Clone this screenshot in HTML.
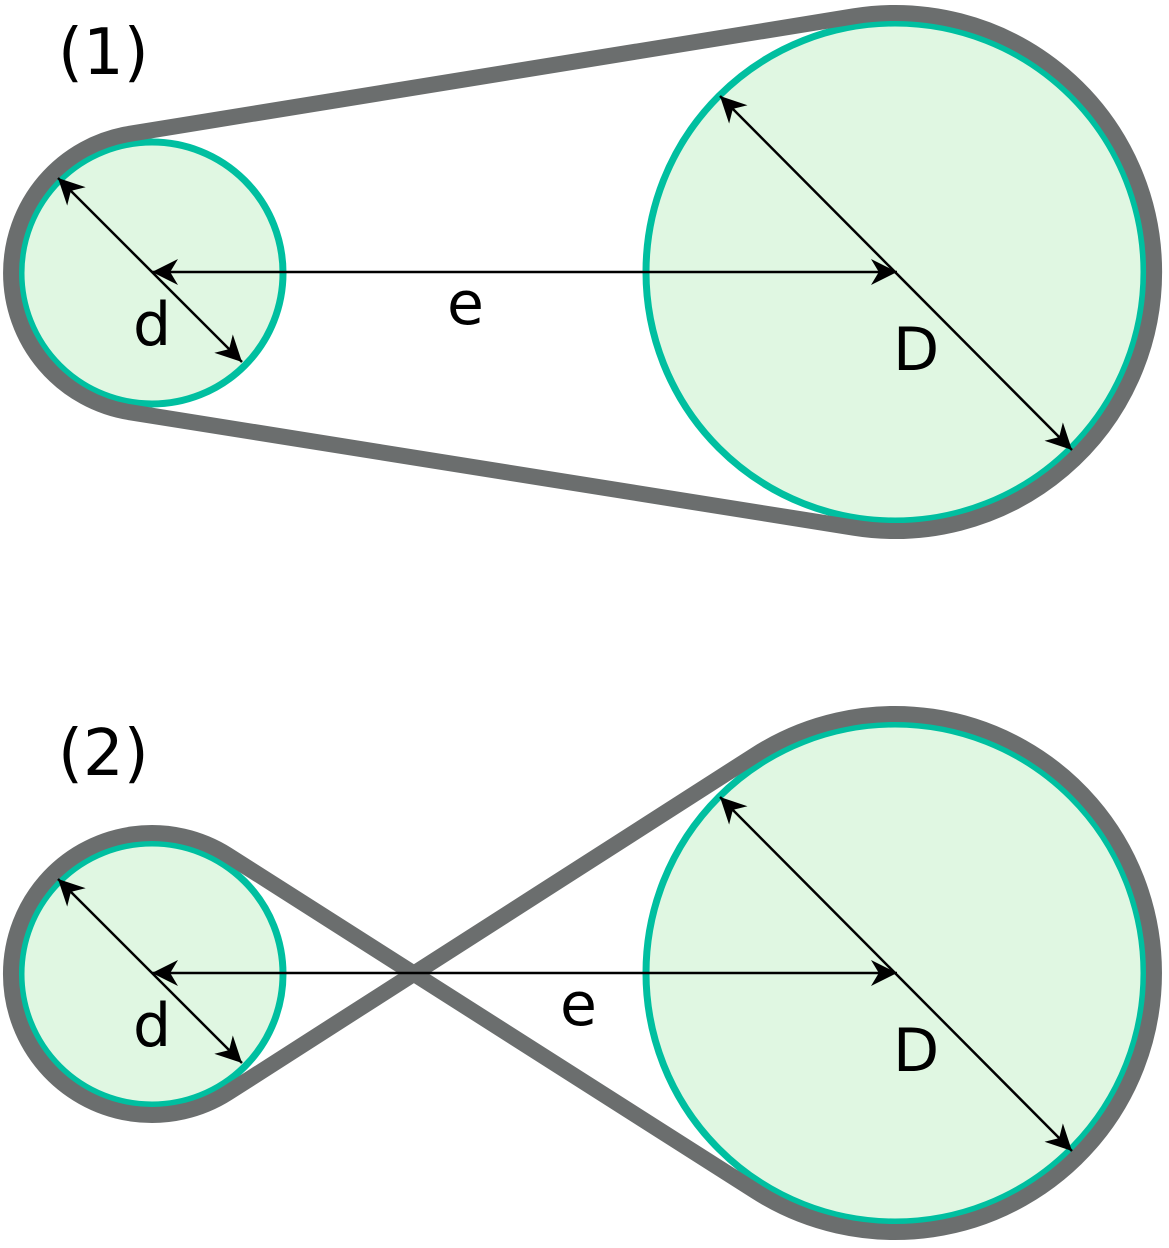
<!DOCTYPE html>
<html><head><meta charset="utf-8"><style>
html,body{margin:0;padding:0;background:#fff;}
svg{display:block;}
text{font-family:"DejaVu Sans","Liberation Sans",sans-serif;fill:#000;}
</style></head><body>
<svg width="1169" height="1248" viewBox="0 0 1169 1248">
<defs>
<marker id="ahb" viewBox="0 0 10 10" refX="10" refY="5" markerWidth="26" markerHeight="26" markerUnits="userSpaceOnUse" orient="auto-start-reverse">
<path d="M0,0 L10,5 L0,10 L3,5 z" fill="#000"/>
</marker>
</defs>

<g>
<text x="58" y="74" font-size="64">(1)</text>
<circle cx="152" cy="273" r="131" fill="#e0f7e2" stroke="#00bfa0" stroke-width="7"/>
<circle cx="895" cy="272" r="249" fill="#e0f7e2" stroke="#00bfa0" stroke-width="7"/>
<path d="M853.9,16.3 L129.6,133.8 A141 141 0 0 0 129.6,412.2 L853.9,527.7 A259 259 0 1 0 853.9,16.3 Z" fill="none" stroke="#6b6e6e" stroke-width="16" stroke-linejoin="round"/>
<line x1="152" y1="272" x2="897" y2="272" stroke="#000" stroke-width="2.5" marker-start="url(#ahb)" marker-end="url(#ahb)"/>
<line x1="58" y1="178" x2="242" y2="362" stroke="#000" stroke-width="2.5" marker-start="url(#ahb)" marker-end="url(#ahb)"/>
<line x1="720" y1="96" x2="1072" y2="450" stroke="#000" stroke-width="2.5" marker-start="url(#ahb)" marker-end="url(#ahb)"/>
<text x="133" y="345" font-size="60">d</text>
<text x="447" y="324" font-size="60">e</text>
<text x="893" y="370" font-size="60">D</text>
</g>

<g>
<text x="58" y="775" font-size="64">(2)</text>
<circle cx="152" cy="974" r="131" fill="#e0f7e2" stroke="#00bfa0" stroke-width="7"/>
<circle cx="895" cy="973" r="249" fill="#e0f7e2" stroke="#00bfa0" stroke-width="7"/>
<path d="M227.9,855.2 L755.6,1191.3 A259 259 0 1 0 755.6,754.7 L227.9,1092.8 A141 141 0 1 1 227.9,855.2 Z" fill="none" stroke="#6b6e6e" stroke-width="16" stroke-linejoin="round"/>
<line x1="152" y1="973" x2="897" y2="973" stroke="#000" stroke-width="2.5" marker-start="url(#ahb)" marker-end="url(#ahb)"/>
<line x1="58" y1="879" x2="242" y2="1063" stroke="#000" stroke-width="2.5" marker-start="url(#ahb)" marker-end="url(#ahb)"/>
<line x1="720" y1="797" x2="1072" y2="1151" stroke="#000" stroke-width="2.5" marker-start="url(#ahb)" marker-end="url(#ahb)"/>
<text x="133" y="1046" font-size="60">d</text>
<text x="560" y="1025" font-size="60">e</text>
<text x="893" y="1071" font-size="60">D</text>
</g>
</svg>
</body></html>
